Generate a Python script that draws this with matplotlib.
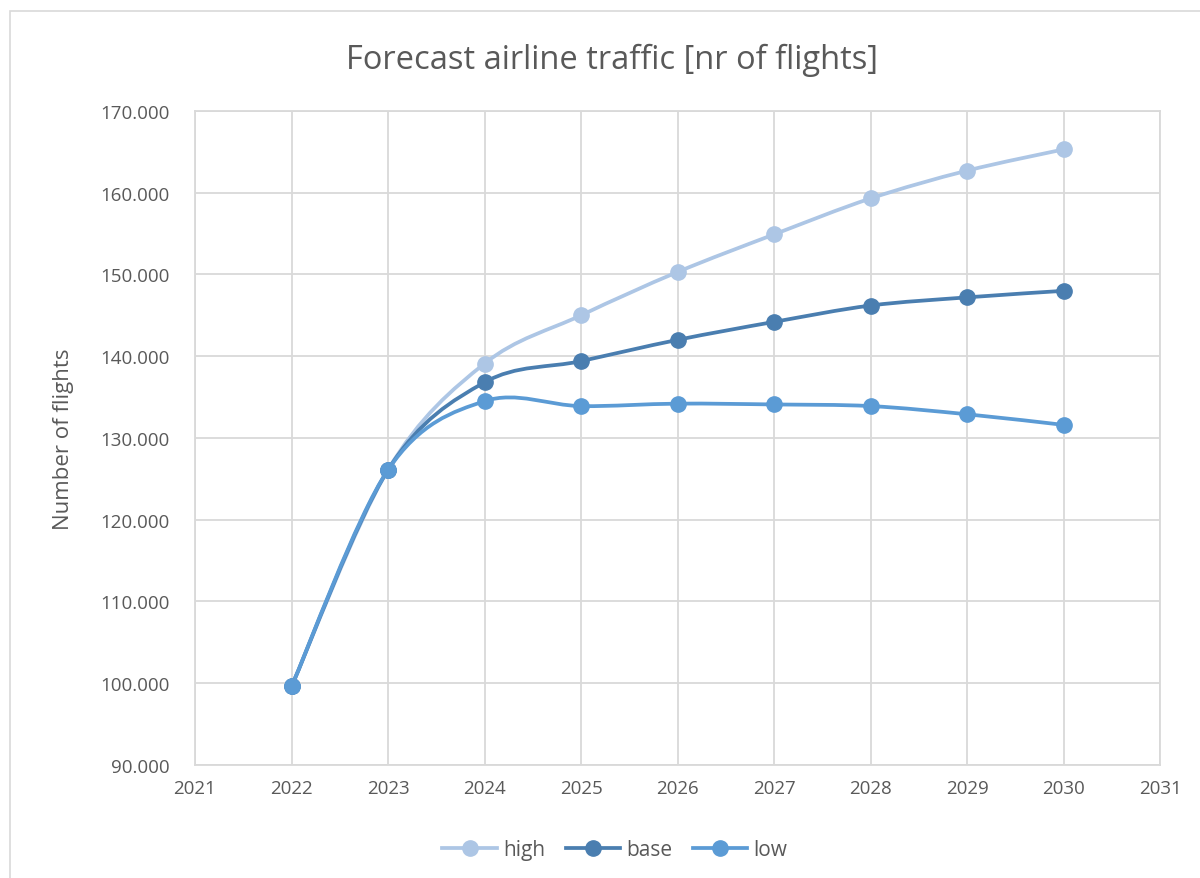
import numpy as np
import matplotlib
matplotlib.use("Agg")
import matplotlib.pyplot as plt
from matplotlib.path import Path
from matplotlib.patches import PathPatch, Rectangle
from matplotlib.lines import Line2D
from matplotlib.ticker import FuncFormatter, MultipleLocator

plt.rcParams["font.family"] = ["Open Sans", "DejaVu Sans"]

# ---------------------------------------------------------------------------
# Data
# ---------------------------------------------------------------------------
years = [2022, 2023, 2024, 2025, 2026, 2027, 2028, 2029, 2030]
high = [99600, 126100, 139100, 145000, 150300, 154900, 159300, 162700, 165300]
base = [99600, 126100, 136800, 139400, 142000, 144200, 146200, 147200, 148000]
low = [99600, 126100, 134500, 133900, 134200, 134100, 133900, 132900, 131600]

series = [("high", high, "#adc6e5"), ("base", base, "#4a7eb0"), ("low", low, "#5b9bd5")]

GRID = "#d9d9d9"
TXT = "#595959"


def smooth_path(x, y):
    """Bezier path passing through the points (Excel-like smoothed line)."""
    x = np.asarray(x, float)
    y = np.asarray(y, float)
    verts = [(x[0], y[0])]
    codes = [Path.MOVETO]
    n = len(x)
    for i in range(n - 1):
        p0 = np.array([x[max(i - 1, 0)], y[max(i - 1, 0)]])
        p1 = np.array([x[i], y[i]])
        p2 = np.array([x[i + 1], y[i + 1]])
        p3 = np.array([x[min(i + 2, n - 1)], y[min(i + 2, n - 1)]])
        c1 = p1 + (p2 - p0) / 6.0
        c2 = p2 - (p3 - p1) / 6.0
        verts += [tuple(c1), tuple(c2), tuple(p2)]
        codes += [Path.CURVE4] * 3
    return Path(verts, codes)


fig = plt.figure(figsize=(12, 8.79), dpi=100)
ax = fig.add_axes([0.1625, 0.1286, 0.8042, 0.744])

# chart-area border
fig.patches.append(Rectangle((10 / 1200, -0.01), 1.1, 1 - 12 / 879 + 0.01,
                             transform=fig.transFigure, fill=False,
                             edgecolor=GRID, linewidth=1.2))

handles = []
for name, vals, col in series:
    ax.add_patch(PathPatch(smooth_path(years, vals), facecolor="none",
                           edgecolor=col, linewidth=2.7, zorder=3,
                           capstyle="round"))
    ax.plot(years, vals, "o", color=col, markersize=11, zorder=4)
    handles.append(Line2D([], [], color=col, linewidth=2.7, marker="o",
                          markersize=11, label=name))

ax.set_xlim(2021, 2031)
ax.set_ylim(90000, 170000)
ax.xaxis.set_major_locator(MultipleLocator(1))
ax.yaxis.set_major_locator(MultipleLocator(10000))
ax.yaxis.set_major_formatter(FuncFormatter(lambda v, p: f"{v:,.0f}".replace(",", ".")))
ax.grid(True, color=GRID, linewidth=1.3)
ax.set_axisbelow(True)
for s in ax.spines.values():
    s.set_color(GRID)
    s.set_linewidth(1.3)
ax.tick_params(length=0, labelsize=13.5, colors=TXT)
ax.tick_params(axis="y", pad=18)
ax.tick_params(axis="x", pad=10)

ax.set_ylabel("Number of flights", fontsize=16, color=TXT)
ax.yaxis.set_label_coords(-0.125, 0.5)
fig.text(612 / 1200, 1 - 60 / 879, "Forecast airline traffic [nr of flights]",
         ha="center", va="center", fontsize=23.5, color=TXT)

fig.legend(handles=handles, loc="center", bbox_to_anchor=(615 / 1200, 1 - 851 / 879),
           ncol=3, frameon=False, fontsize=15, labelcolor=TXT,
           handlelength=2.6, columnspacing=1.0, handletextpad=0.3)

fig.savefig("out.png", dpi=100)
